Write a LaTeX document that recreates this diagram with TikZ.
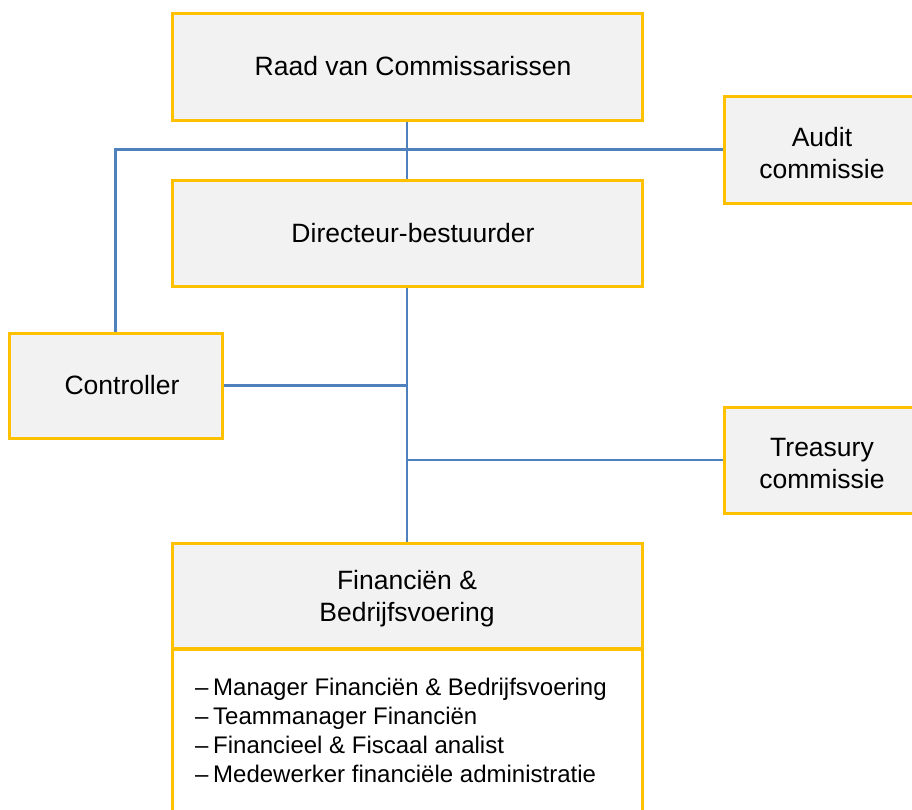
\documentclass[tikz,border=0pt]{standalone}
\usepackage{fontspec}
\setmainfont{Liberation Sans}
\definecolor{boxborder}{HTML}{FFC000}
\definecolor{boxfill}{HTML}{F2F2F2}
\definecolor{linkblue}{HTML}{4F81BD}
\newcommand{\hdfont}{\fontsize{26.5}{31.8}\selectfont}
\newcommand{\lsfont}{\fontsize{24}{29}\selectfont}
\newcommand{\dashitem}{\makebox[18pt][l]{–}}
\newcommand{\topadj}{\rule{0pt}{25.5pt}}
\begin{document}
\begin{tikzpicture}[x=1pt,y=-1pt,
  orgbox/.style={draw=boxborder, fill=boxfill, line width=3pt, rectangle,
    inner sep=0pt, align=center, font=\hdfont},
  link/.style={draw=linkblue, line width=2.3pt}]
\useasboundingbox (0,0) rectangle (912,809);
\clip (0,0) rectangle (912,809);
% boxes
\node[orgbox, minimum width=470pt, minimum height=107pt] (raad) at (407,66.5) {\hspace*{12pt}Raad van Commissarissen};
\node[orgbox, minimum width=470pt, minimum height=106pt] (dir) at (407,233) {\hspace*{12pt}Directeur-bestuurder};
\node[orgbox, minimum width=213pt, minimum height=105pt] (ctrl) at (115.5,385.5) {\hspace*{13pt}Controller};
\node[orgbox, minimum width=196pt, minimum height=107pt] (audit) at (822,149.5) {\topadj Audit\\commissie};
\node[orgbox, minimum width=196pt, minimum height=106pt] (treas) at (822,460) {\topadj Treasury\\commissie};
\node[draw=boxborder, fill=white, line width=3pt, rectangle, inner sep=0pt,
  minimum width=470pt, minimum height=180pt, anchor=north] (finbody) at (407,648) {};
\node[orgbox, minimum width=470pt, minimum height=105pt] (finhead) at (407,595.5) {\topadj Financiën \&\\Bedrijfsvoering};
\node[anchor=north west, align=left, font=\lsfont, inner sep=0pt] (list) at (195,677.5)
  {\dashitem Manager Financiën \& Bedrijfsvoering\\
   \dashitem Teammanager Financiën\\
   \dashitem Financieel \& Fiscaal analist\\
   \dashitem Medewerker financiële administratie};
% connectors
\draw[link] (raad.south) -- (dir.north);
\draw[link] (audit.west) -| (ctrl.north);
\draw[link] (dir.south) -- (finhead.north);
\draw[link] (ctrl.east) -- (dir.south |- ctrl.east);
\draw[link] (treas.west) -- (dir.south |- treas.west);
\end{tikzpicture}
\end{document}
